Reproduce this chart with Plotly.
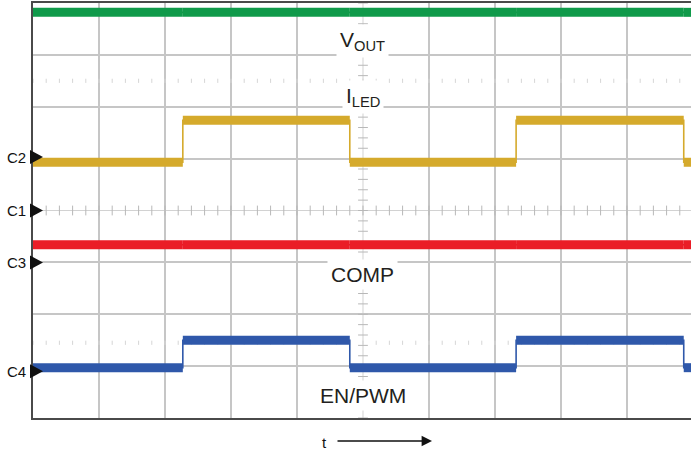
import plotly.graph_objects as go

# ---- data (in screen divisions) ----
edges_t = [0.0, 2.27, 4.80, 7.32, 9.86, 9.97]          # transition times (div)
vout_levels = [3.82, 3.82, 3.82, 3.82, 3.82]
iled_levels = [0.93, 1.74, 0.93, 1.74, 0.93]
comp_levels = [-0.66, -0.66, -0.66, -0.66, -0.66]
enpwm_levels = [-3.03, -2.50, -3.03, -2.50, -3.03]

channel_names = ["C2", "C1", "C3", "C4"]
channel_levels = [1.03, 0.0, -1.0, -3.1]

trace_labels = ["V<sub>OUT</sub>", "I<sub>LED</sub>", "COMP", "EN/PWM"]
label_y = [3.27, 2.18, -1.24, -3.57]

colors = {"vout": "#109a4a", "iled": "#d5aa2c", "comp": "#ea1d27", "enpwm": "#2f58aa"}

X_MAX = 9.97


def step_path(t, lv):
    xs, ys = [], []
    for i, v in enumerate(lv):
        xs += [t[i], t[i + 1]]
        ys += [v, v]
    return xs, ys


def flat_segments(t, lv):
    xs, ys = [], []
    for i, v in enumerate(lv):
        xs += [t[i], t[i + 1], None]
        ys += [v, v, None]
    return xs, ys


fig = go.Figure()

# center graticule tick marks
minor = [round(0.2 * k, 2) for k in range(0, 50)]
fig.add_trace(go.Scatter(x=minor, y=[0] * len(minor), mode="markers",
                         marker=dict(symbol="line-ns", size=7, line=dict(width=1, color="#b8b8b8")),
                         hoverinfo="skip", showlegend=False))
minor_y = [round(-4 + 0.2 * k, 2) for k in range(0, 41)]
fig.add_trace(go.Scatter(x=[5] * len(minor_y), y=minor_y, mode="markers",
                         marker=dict(symbol="line-ew", size=7, line=dict(width=1, color="#b8b8b8")),
                         hoverinfo="skip", showlegend=False))
# faint dotted reference rows
for yy in (2.5, -2.55):
    fig.add_trace(go.Scatter(x=minor, y=[yy] * len(minor), mode="markers",
                             marker=dict(symbol="line-ns", size=3, line=dict(width=1, color="#d6d6d6")),
                             hoverinfo="skip", showlegend=False))

for key, lv in [("vout", vout_levels), ("iled", iled_levels), ("comp", comp_levels), ("enpwm", enpwm_levels)]:
    xs, ys = step_path(edges_t, lv)
    fig.add_trace(go.Scatter(x=xs, y=ys, mode="lines", line=dict(color=colors[key], width=1.6),
                             hoverinfo="skip", showlegend=False))
    xs, ys = flat_segments(edges_t, lv)
    fig.add_trace(go.Scatter(x=xs, y=ys, mode="lines", line=dict(color=colors[key], width=9),
                             hoverinfo="skip", showlegend=False, connectgaps=False))

annotations = []
for name, lv in zip(channel_names, channel_levels):
    annotations.append(dict(x=0, y=lv, xref="x", yref="y", text=name, showarrow=False,
                            xanchor="right", yanchor="middle", xshift=-5,
                            font=dict(family="Liberation Sans, Arial", size=15, color="#111111")))
for txt, yy in zip(trace_labels, label_y):
    annotations.append(dict(x=5, y=yy, xref="x", yref="y", text=txt, showarrow=False,
                            xanchor="center", yanchor="middle", bgcolor="white", borderpad=3,
                            font=dict(family="Liberation Sans, Arial", size=21, color="#231f20")))
# time arrow
annotations.append(dict(x=(432 - 33) / 658, y=(418 - 441) / 415, xref="paper", yref="paper",
                        ax=-96, ay=0, axref="pixel", ayref="pixel",
                        text="", showarrow=True, arrowhead=2, arrowsize=1.6, arrowwidth=1.3,
                        arrowcolor="#111111"))
annotations.append(dict(x=(324 - 33) / 658, y=(418 - 442) / 415, xref="paper", yref="paper",
                        text="t", showarrow=False, xanchor="center", yanchor="middle",
                        font=dict(family="Liberation Sans, Arial", size=15, color="#111111")))

shapes = [
    dict(type="line", xref="x", yref="y", x0=0, x1=X_MAX, y0=0, y1=0,
         line=dict(color="#d2d2d2", width=1), layer="below"),
    dict(type="line", xref="x", yref="y", x0=5, x1=5, y0=-4, y1=4,
         line=dict(color="#d2d2d2", width=1), layer="below"),
]
# channel ground-level markers (pixel-sized triangles anchored at each level)
for lv in channel_levels:
    shapes.append(dict(type="path", xref="paper", yref="y", xsizemode="pixel", ysizemode="pixel",
                       xanchor=0, yanchor=lv, path="M-3,-7 L10,0 L-3,7 Z",
                       fillcolor="#111111", line=dict(width=0), layer="above"))

fig.update_layout(
    width=691, height=454,
    margin=dict(l=33, r=0, t=3, b=36),
    paper_bgcolor="white", plot_bgcolor="white",
    annotations=annotations, shapes=shapes,
    xaxis=dict(range=[0, X_MAX], tickvals=[1, 2, 3, 4, 6, 7, 8, 9], showticklabels=False,
               ticks="", showgrid=True, gridcolor="#c6c6c6", gridwidth=2, zeroline=False,
               showline=True, linecolor="#4a4a4a", linewidth=1.5, mirror=True, fixedrange=True),
    yaxis=dict(range=[-4, 4], tickvals=[-3, -2, -1, 1, 2, 3], showticklabels=False,
               ticks="", showgrid=True, gridcolor="#c6c6c6", gridwidth=2, zeroline=False,
               showline=True, linecolor="#4a4a4a", linewidth=1.5, mirror=False, fixedrange=True),
)

fig.write_html("out.html", config={"displayModeBar": False},
               post_script="document.body.style.margin='0';")
